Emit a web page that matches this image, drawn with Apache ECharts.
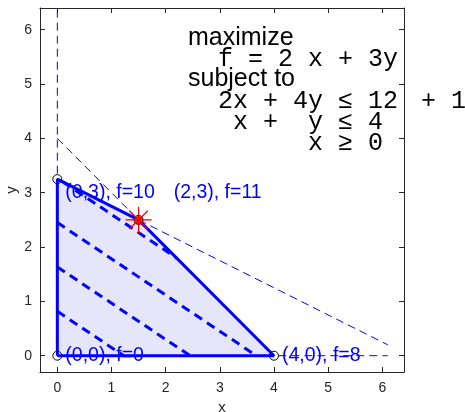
<!DOCTYPE html>
<html><head><meta charset="utf-8">
<script src="https://cdn.jsdelivr.net/npm/echarts@6/dist/echarts.min.js"></script>
<style>html,body{margin:0;padding:0;background:#fff}#c{width:465px;height:412px}</style>
</head><body><div id="c"></div>
<script>
// ---- data ----
const feasibleVertices = [[0,0],[4,0],[1.5,2.5],[0,3.25]];
const cornerPoints = [[0,0],[4,0],[0,3.25],[1.5,2.5]];
const optimum = [1.5,2.5];
const constraintXY4 = [[0,4],[4,0]];          // x + y = 4
const constraintPerturbed = [[0,3.25],[6.1,0.2]]; // 2x + 4y = 13
const constraintX0 = [[0,0],[0,6.4]];         // x = 0
const constraintY0 = [[0,0],[6.1,0]];         // y = 0
const levelLines = [
  [[0,0.8167],[1.225,0]],
  [[0,1.633],[2.45,0]],
  [[0,2.45],[3.675,0]],
  [[0.1,3.2],[2.2,1.8]]
];
const vertexLabels = [
  [0,0,'(0,0), f=0'],
  [4,0,'(4,0), f=8'],
  [0,3,'(0,3), f=10'],
  [2,3,'(2,3), f=11']
];
const tickValues = [0,1,2,3,4,5,6];
const rayAngles = [0,45,90,135];

// ---- chart ----
const blue = '#0000ff';
const axisColor = '#262626';
const chart = echarts.init(document.getElementById('c'));
const G = {left:40, top:8, width:364, height:364, containLabel:false, outerBoundsMode:'none'};

function baseAxis(extra){
  return Object.assign({
    type:'value', splitLine:{show:false},
    axisLine:{show:true, onZero:false, lineStyle:{color:axisColor, width:1}},
    axisTick:{show:true, inside:true, length:5, customValues:tickValues, lineStyle:{color:axisColor}},
    axisLabel:{show:true, customValues:tickValues, color:axisColor, fontSize:14, fontFamily:'Liberation Sans'}
  }, extra);
}

const series = [];
series.push({
  type:'custom', coordinateSystem:'cartesian2d', data:[[0,0]], z:1, silent:true,
  renderItem:(p, api)=>({type:'polygon', shape:{points: feasibleVertices.map(v=>api.coord(v))},
    style:{fill:'#e6e6fa', stroke:null}})
});
[constraintXY4, constraintPerturbed, constraintX0, constraintY0].forEach(d=>{
  series.push({type:'line', data:d, symbol:'none', z:2, lineStyle:{color:blue, width:1, type:[8,5]}});
});
levelLines.forEach(d=>{
  series.push({type:'line', data:d, symbol:'none', z:3, lineStyle:{color:blue, width:3, type:[9,6]}});
});
series.push({type:'line', data: feasibleVertices.concat([feasibleVertices[0]]), symbol:'none', z:4,
  lineStyle:{color:blue, width:3}});
series.push({type:'scatter', data:[optimum], symbol:'circle', symbolSize:8, z:5,
  itemStyle:{color:'#ff2020', opacity:1}});
series.push({type:'scatter', data:cornerPoints, symbol:'circle', symbolSize:9, z:6,
  itemStyle:{color:'rgba(0,0,0,0)', borderColor:'#000', borderWidth:1, opacity:1}});
series.push({type:'scatter', z:7,
  data: rayAngles.map(a=>({value:optimum, symbolRotate:a})),
  symbol:'rect', symbolSize:[26,1.3], itemStyle:{color:'#ff0000', opacity:1}});
series.push({type:'scatter', z:8, symbolSize:0, itemStyle:{opacity:1},
  data: vertexLabels.map(l=>({value:[l[0],l[1]], name:l[2]})),
  label:{show:true, position:'right', distance:8, formatter:p=>p.name, opacity:1,
    color:blue, fontSize:19.5, fontFamily:'Liberation Sans'}});

const mono = 'Liberation Mono';
const sans = 'Liberation Sans';
function txt(x,y,t,font){
  return {type:'text', left:x, top:y, z:100,
    style:{text:t, fill:'#000', font:'25px "'+font+'"', textVerticalAlign:'top'}};
}

chart.setOption({
  animation:false,
  grid:G,
  xAxis:[
    baseAxis({min:-0.32, max:6.4, position:'bottom', name:'x', nameLocation:'middle', nameGap:28,
      nameTextStyle:{color:axisColor, fontSize:15, fontFamily:sans},
      axisLabel:{show:true, customValues:tickValues, color:axisColor, fontSize:14, fontFamily:sans, margin:9}}),
    baseAxis({min:-0.32, max:6.4, position:'top', axisLabel:{show:false}})
  ],
  yAxis:[
    baseAxis({min:-0.3, max:6.4, position:'left',
      axisLabel:{show:true, customValues:tickValues, color:axisColor, fontSize:14, fontFamily:sans, margin:8}}),
    baseAxis({min:-0.3, max:6.4, position:'right', axisLabel:{show:false}})
  ],
  series: series,
  graphic:[
    {type:'text', x:12, y:190, rotation:Math.PI/2, z:100,
      style:{text:'y', fill:axisColor, font:'15px "Liberation Sans"', align:'center', verticalAlign:'middle'}},
    txt(188,26,'maximize',sans),
    txt(218,47,'f = 2 x + 3y',mono),
    txt(188,67,'subject to',sans),
    txt(218,89,'2x + 4y ≤ 12',mono),
    txt(421,89,'+ 1',mono),
    txt(218,110,' x +  y ≤ 4',mono),
    txt(218,131,'      x ≥ 0',mono)
  ]
});
</script></body></html>
